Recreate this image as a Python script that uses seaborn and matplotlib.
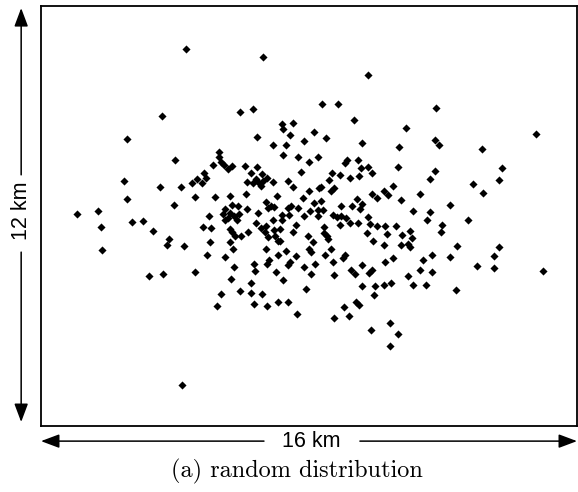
import matplotlib
matplotlib.use("Agg")
import matplotlib.pyplot as plt
import seaborn as sns
import pandas as pd

# Positions of points (km) - dense central cluster
core_x = [5.94, 6.34, 9.34, 7.19, 7.53, 7.21, 10.91, 8.16, 7.42, 6.46,
          8.50, 7.86, 11.76, 9.57, 6.93, 7.32, 11.87, 10.68, 5.30, 5.32,
          7.23, 7.67, 8.27, 9.46, 9.12, 8.01, 9.08, 5.37, 5.13, 5.45,
          5.69, 5.59, 6.09, 6.46, 9.55, 9.75, 10.65, 7.75, 6.26, 6.61,
          4.86, 8.68, 8.94, 9.49, 9.87, 11.76, 9.21, 4.67, 4.94, 6.76,
          6.42, 11.61, 4.50, 4.82, 6.14, 6.32, 6.50, 6.62, 6.94, 7.38,
          8.59, 6.57, 7.53, 4.18, 8.36, 8.31, 8.75, 10.50, 8.66, 7.99,
          9.89, 10.25, 10.37, 10.04, 11.31, 4.59, 5.20, 5.65, 6.12, 7.03,
          7.81, 9.42, 10.76, 8.35, 8.16, 6.73, 6.86, 6.96, 5.69, 5.48,
          5.89, 6.14, 6.49, 6.78, 7.36, 7.46, 7.68, 8.03, 8.27, 8.43,
          8.95, 9.28, 9.57, 9.53, 11.09, 11.61, 12.21, 5.44, 5.64, 5.77,
          5.90, 5.02, 7.86, 8.26, 7.40, 7.19, 8.71, 8.83, 8.96, 9.10,
          9.77, 5.48, 5.59, 5.84, 6.94, 7.19, 11.53, 12.76, 6.41, 9.22,
          9.47, 8.93, 9.82, 4.83, 5.06, 6.57, 6.71, 6.97, 7.13, 7.61,
          8.44, 10.03, 10.28, 10.60, 11.96, 5.64, 5.69, 6.19, 6.69, 7.52,
          8.46, 11.02, 11.93, 5.80, 5.98, 6.77, 6.99, 7.98, 8.53, 8.58,
          9.72, 10.32, 10.77, 11.06, 5.05, 5.64, 4.27, 7.07, 7.14, 8.11,
          9.90, 10.24, 10.76, 10.95, 11.02, 12.42, 5.74, 6.72, 7.31, 7.99,
          8.05, 8.66, 4.97, 5.48, 7.06, 7.61, 8.49, 9.06, 9.00, 10.50,
          11.68, 12.22, 6.36, 6.81, 6.74, 7.43, 7.36, 8.17, 8.73, 10.28,
          11.40, 5.75, 7.86, 9.57, 6.39, 7.02, 9.24, 9.38, 9.78, 9.87,
          11.30, 11.68, 4.60, 8.05, 8.75, 10.96, 5.66, 7.21, 6.26, 10.45,
          9.57, 9.97, 10.24, 11.09, 11.49, 7.90, 12.39, 5.94, 6.26, 5.36,
          6.61, 9.95, 7.06, 7.38, 6.35, 6.75, 5.26, 9.40, 9.50, 9.04,
          7.64, 8.75, 9.19]
core_y = [8.97, 9.05, 8.73, 8.62, 8.67, 8.48, 8.52, 8.41, 8.31, 8.27,
          8.23, 8.15, 8.17, 8.09, 8.03, 8.03, 8.03, 7.98, 7.83, 7.70,
          7.74, 7.68, 7.68, 7.61, 7.60, 7.54, 7.52, 7.55, 7.47, 7.47,
          7.43, 7.35, 7.43, 7.41, 7.38, 7.41, 7.40, 7.26, 7.24, 7.19,
          7.24, 7.23, 7.18, 7.14, 7.23, 7.29, 7.10, 7.06, 7.09, 7.09,
          7.06, 7.06, 6.95, 6.93, 6.98, 6.93, 6.93, 7.00, 6.97, 7.00,
          7.02, 6.86, 6.84, 6.84, 6.84, 6.79, 6.81, 6.86, 6.71, 6.71,
          6.64, 6.71, 6.60, 6.52, 6.64, 6.55, 6.53, 6.57, 6.64, 6.58,
          6.52, 6.49, 6.45, 6.42, 6.38, 6.40, 6.30, 6.26, 6.31, 6.20,
          6.28, 6.21, 6.09, 6.23, 6.23, 6.30, 6.23, 6.14, 6.18, 6.18,
          6.30, 6.28, 6.33, 6.20, 6.14, 6.11, 6.31, 6.07, 6.09, 6.01,
          6.07, 6.01, 6.01, 6.01, 6.04, 6.03, 6.04, 5.98, 6.01, 5.95,
          5.98, 5.90, 5.95, 5.90, 5.88, 5.88, 5.90, 5.90, 5.80, 5.80,
          5.79, 5.73, 5.76, 5.69, 5.65, 5.66, 5.71, 5.61, 5.63, 5.73,
          5.69, 5.71, 5.71, 5.71, 5.73, 5.63, 5.54, 5.54, 5.54, 5.54,
          5.52, 5.58, 5.54, 5.42, 5.44, 5.40, 5.44, 5.42, 5.42, 5.35,
          5.51, 5.48, 5.46, 5.37, 5.25, 5.25, 5.15, 5.29, 5.29, 5.25,
          5.29, 5.18, 5.18, 5.20, 5.11, 5.15, 5.07, 5.06, 4.99, 5.06,
          4.97, 5.06, 4.89, 4.82, 4.89, 4.87, 4.89, 4.89, 4.81, 4.81,
          4.89, 4.82, 4.64, 4.73, 4.64, 4.68, 4.59, 4.64, 4.70, 4.70,
          4.74, 4.54, 4.54, 4.59, 4.42, 4.40, 4.47, 4.34, 4.37, 4.45,
          4.45, 4.41, 4.40, 4.34, 4.31, 4.28, 4.20, 4.16, 4.08, 4.08,
          3.99, 3.99, 4.02, 4.02, 4.02, 3.92, 3.89, 3.86, 3.80, 3.77,
          3.77, 3.73, 3.54, 3.54, 3.48, 3.44, 3.44, 3.54, 3.46, 3.40,
          3.20, 3.08, 3.13]

# Positions of points (km) - outlying points
outer_x = [4.34, 3.60, 2.57, 4.00, 6.64, 9.75, 8.39, 8.86, 11.79, 14.79,
           13.16, 2.49, 3.56, 2.56, 3.97, 1.08, 1.71, 1.78, 2.71, 3.04,
           3.34, 3.82, 3.75, 1.82, 3.22, 3.63, 4.20, 9.86, 10.42, 10.67,
           10.42, 13.75, 13.68, 12.90, 13.20, 13.68, 13.53, 13.02, 13.53, 14.98]
outer_y = [10.76, 8.87, 8.20, 7.60, 10.54, 10.03, 9.19, 9.19, 9.08, 8.33,
           7.91, 7.00, 6.82, 6.49, 6.31, 6.06, 6.13, 5.68, 5.82, 5.85,
           5.58, 5.33, 5.17, 5.04, 4.28, 4.34, 1.17, 2.73, 2.94, 2.63,
           2.30, 7.36, 7.02, 6.92, 6.66, 5.11, 4.85, 4.56, 4.52, 4.42]

area_w, area_h = 16, 12
width_label = "16 km"
height_label = "12 km"
caption = "(a) random distribution"

sns.set_theme(style="white")
plt.rcParams['font.family'] = ['Liberation Sans', 'DejaVu Sans']

df = pd.DataFrame({"x": core_x + outer_x, "y": core_y + outer_y})

W, H = 578, 492
fig = plt.figure(figsize=(W / 100, H / 100), dpi=100)
ax = fig.add_axes([41 / W, 1 - 426 / H, 536 / W, 420 / H])
sns.scatterplot(data=df, x="x", y="y", ax=ax, marker="D", s=17,
                color="black", linewidth=0)
ax.set_xlim(0, area_w)
ax.set_ylim(0, area_h)
ax.set_xticks([])
ax.set_yticks([])
ax.set_xlabel("")
ax.set_ylabel("")
for sp in ax.spines.values():
    sp.set_visible(True)
    sp.set_color("black")
    sp.set_linewidth(1.3)

aprops = dict(arrowstyle="-|>,head_length=0.8,head_width=0.3", color="black",
              lw=1.1, mutation_scale=14, shrinkA=0, shrinkB=0)
kw = dict(xycoords="axes fraction", textcoords="axes fraction",
          arrowprops=aprops, annotation_clip=False)
# horizontal dimension arrow
hy = -0.036
ax.annotate("", xy=(0.0, hy), xytext=(0.416, hy), **kw)
ax.annotate("", xy=(1.0, hy), xytext=(0.595, hy), **kw)
ax.text(0.504, hy, width_label, transform=ax.transAxes, ha="center",
        va="center", fontsize=15.5, color="black")
# vertical dimension arrow
vx = -0.037
ax.annotate("", xy=(vx, 0.995), xytext=(vx, 0.598), **kw)
ax.annotate("", xy=(vx, 0.0095), xytext=(vx, 0.414), **kw)
ax.text(vx, 0.512, height_label, transform=ax.transAxes, ha="center",
        va="center", rotation=90, fontsize=15.5, color="black")

fig.text(297 / W, 1 - 471 / H, caption, family="cmr10", fontsize=17.5,
         ha="center", va="center", color="black")

fig.savefig("out.png", dpi=100)
